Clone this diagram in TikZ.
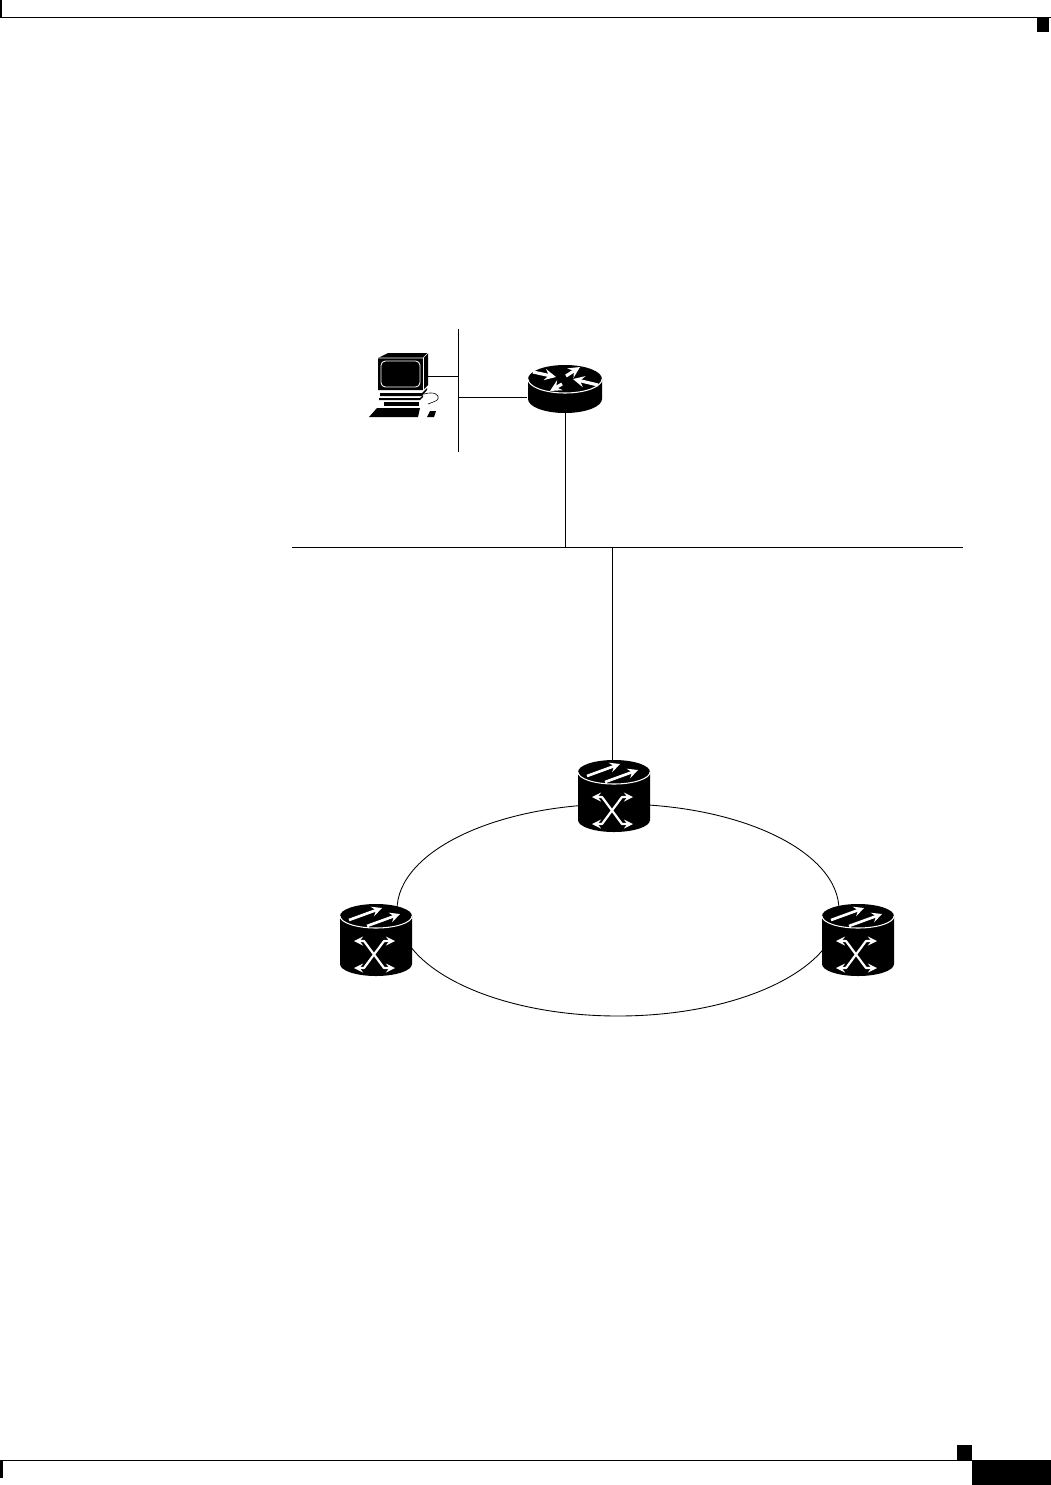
\documentclass[tikz,border=0pt]{standalone}
\usepackage{tikz}
\usetikzlibrary{positioning}

\tikzset{
  wire/.style={black, line width=0.5pt},
  hole/.style={white, line width=0.6pt, line cap=round},
  flow/.style={white, line width=1.5pt, ->, >=stealth},
  cross/.style={white, line width=1.25pt, <->, >=stealth, line join=round},
  turn/.style={white, line width=1.8pt, ->, >=stealth},
  device/.style={inner sep=0pt, outer sep=0pt},
  adm/.pic={
    \fill (0,-24) ellipse [x radius=36, y radius=12];
    \fill (-36,-24)--(-36,24) arc [start angle=180, end angle=0, x radius=36, y radius=12]--(36,-24)--cycle;
    \draw[hole] (-36,-24) arc [start angle=180, end angle=0, x radius=36, y radius=12];
    \draw[flow] (-27,-20)--(6,-32);
    \draw[flow] (-9,-14)--(24,-26);
    \draw[cross] (-22,1)--(-12,1)--(8,28)--(19,28);
    \draw[cross] (19,1)--(8,1)--(-12,28)--(-22,28);
  },
  router/.pic={
    \fill (0,-10) ellipse [x radius=37, y radius=14];
    \fill (-37,-10)--(-37,10) arc [start angle=180, end angle=0, x radius=37, y radius=14]--(37,-10)--cycle;
    \draw[hole] (-37,-10) arc [start angle=180, end angle=0, x radius=37, y radius=14];
    \draw[turn] (-32,-17)--(-9,-12);
    \draw[turn] (1,-13)--(15,-22);
    \draw[turn] (33,-4)--(8,-10);
    \draw[turn] (-3,-5)--(-15,2);
  },
  workstation/.pic={
    \fill (-47,-23)--(-37,-28)--(3,-28)--(3,4)--(-2,9)--(-47,9)--cycle;
    \draw[white, line width=0.3pt] (-47,-23)--(-2,-23)--(3,-28);
    \draw[white, line width=0.3pt] (-2,-23)--(-2,9);
    \draw[white, line width=0.5pt, rounded corners=2.5pt] (-44,-20) rectangle (-5,6);
    \fill (-45,12)--(-3,12)--(2,7)--(2,9)--(-3,15)--(-45,15)--cycle;
    \fill (-46,17)--(-5,17)--(-2,14)--(-2,16)--(-5,19)--(-46,19)--cycle;
    \fill (-56,36)--(-48,27)--(-5,27)--(-7,36)--cycle;
    \fill (-41,21)--(-6,21)--(-6,25)--(-41,25)--cycle;
    \fill (2,36)--(5,30)--(11,30)--(9,36)--cycle;
    \draw[wire, line width=0.35pt] (-1,13) .. controls (9,10) and (15,14) .. (13,18) .. controls (12,20) and (8,21) .. (3,23);
  }
}

\begin{document}
\begin{tikzpicture}[x=0.02cm, y=-0.02cm]

\useasboundingbox (0,0) rectangle (1051,1485);

\fill[white] (0,0) rectangle (1051,1485);

% page furniture
\fill (0,16.5) rectangle (1051,18);

\fill (0,0) rectangle (2.5,18);

\fill (1037,18) rectangle (1049,32);

\fill (3,1459.5) rectangle (972,1461);

\fill (0,1460) rectangle (3,1478);

\fill (957,1445) rectangle (972,1460);

\fill (972,1460) rectangle (1051,1485);

\node[device, minimum width=1.3cm, minimum height=1.3cm] (pc) at (425,381) {};
\node[device, minimum width=1.48cm, minimum height=0.96cm] (gne) at (565,389) {};
\node[device, minimum width=1.44cm, minimum height=1.44cm] (nodeA) at (614,796) {};
\node[device, minimum width=1.44cm, minimum height=1.44cm] (nodeB) at (376,940) {};
\node[device, minimum width=1.44cm, minimum height=1.44cm] (nodeC) at (858,940) {};

\coordinate (lanTop) at (458.5,329);
\coordinate (lanBot) at (458.5,452);
\coordinate (pcPort) at (428,376);
\coordinate (gnePort) at (527,397);
\coordinate (wanL) at (292,547.5);
\coordinate (wanR) at (963,547.5);
\coordinate (nodeAPort) at (612.5,762);
\coordinate (ringC) at (618,910);

\draw[wire] (lanTop)--(lanBot);

\draw[wire] (pcPort)--(pcPort-|lanTop);

\draw[wire] (gnePort)--(gnePort-|lanTop);

\draw[wire] (gne.south)--(gne.south|-wanL);

\draw[wire] (wanL)--(wanR);

\draw[wire] (nodeAPort|-wanL)--(nodeAPort);

\draw[wire] (ringC) ellipse [x radius=221, y radius=106];

\pic at (pc) {workstation};
\pic at (gne) {router};
\pic at (nodeA) {adm};
\pic at (nodeB) {adm};
\pic at (nodeC) {adm};

\end{tikzpicture}
\end{document}
